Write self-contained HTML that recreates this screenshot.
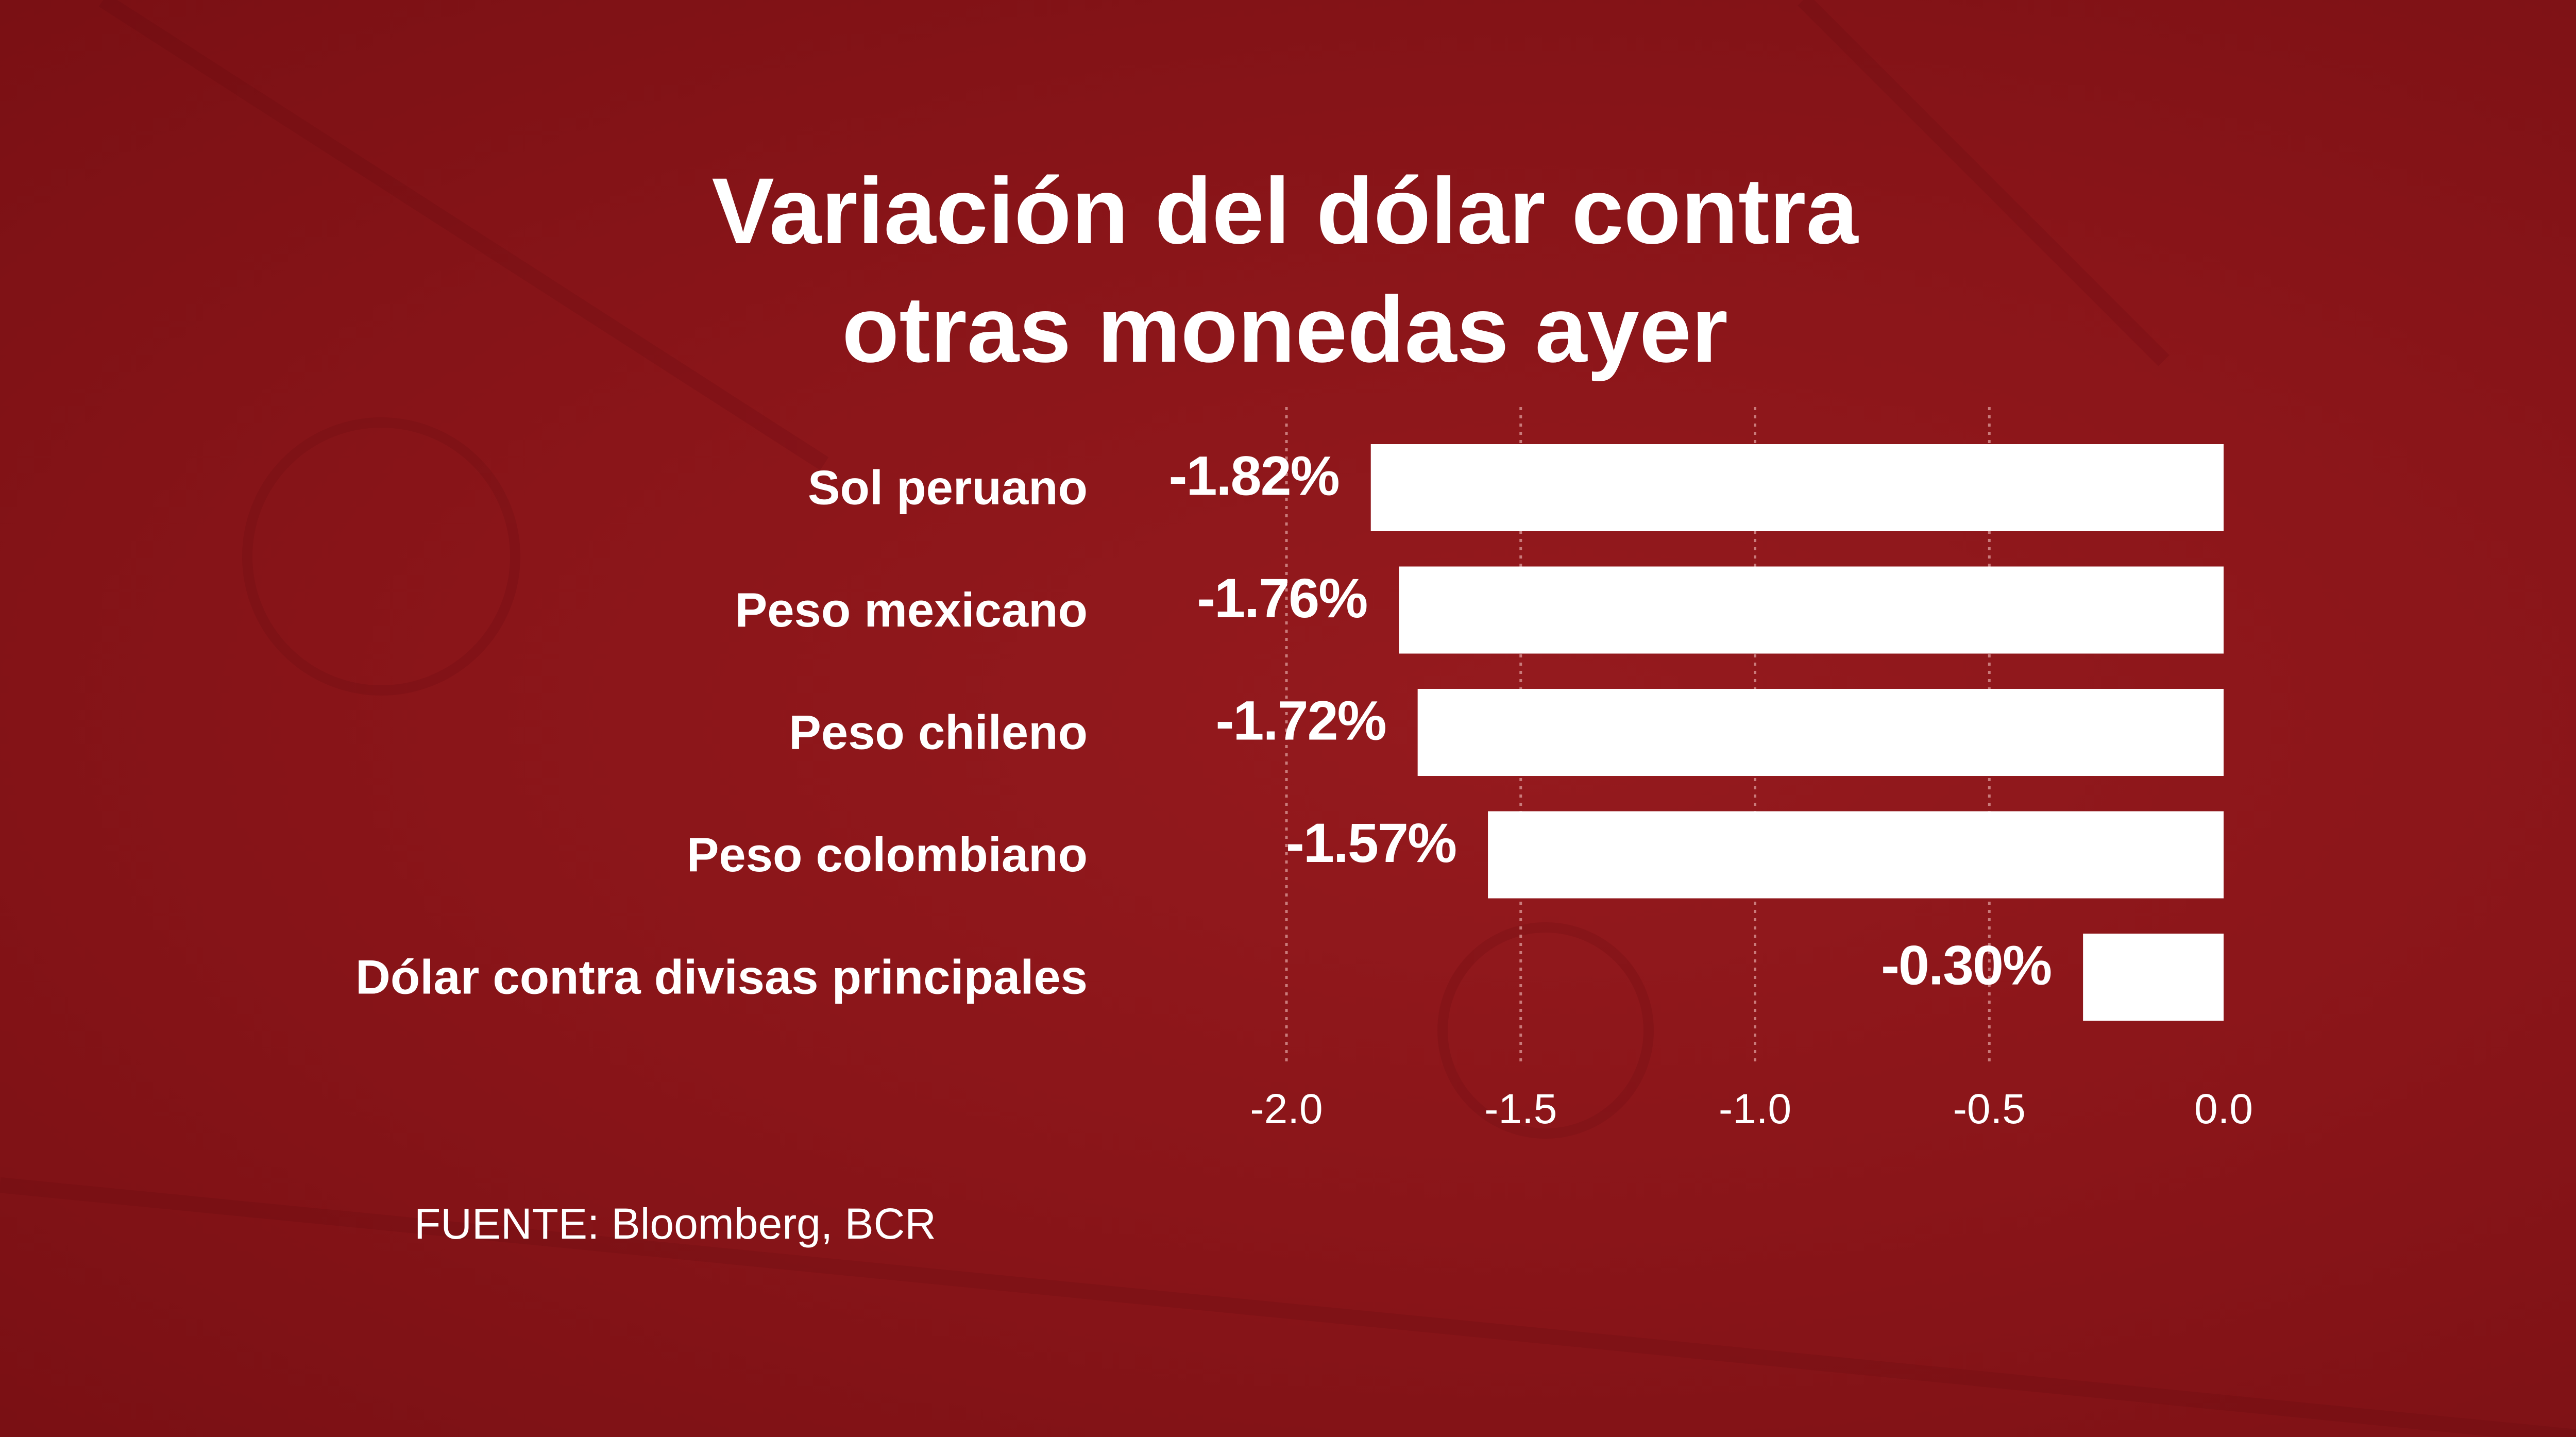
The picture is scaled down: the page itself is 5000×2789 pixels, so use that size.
<!DOCTYPE html>
<html><head><meta charset="utf-8"><style>
html,body{margin:0;padding:0}
body{width:5000px;height:2789px;overflow:hidden;position:relative;font-family:"Liberation Sans",sans-serif;
background:radial-gradient(ellipse at 60% 50%,#951a1e 0%,#8a1519 50%,#7a1014 100%);}
svg{position:absolute;left:0;top:0}
</style></head><body>
<svg width="5000" height="2789">
<g opacity="0.15" fill="none" stroke="#5a0a0d" stroke-width="30">
<path d="M0 2300 L5000 2789"/><path d="M200 0 L1600 900"/><path d="M3500 0 L4200 700"/>
<circle cx="740" cy="1080" r="260" stroke-width="20"/><circle cx="3000" cy="2000" r="200" stroke-width="20"/>
</g>
<text x="2494" y="472" text-anchor="middle" fill="#fff" font-weight="bold" font-size="182">Variación del dólar contra</text>
<text x="2494" y="702" text-anchor="middle" fill="#fff" font-weight="bold" font-size="182">otras monedas ayer</text>
<g id="grid"></g><g id="bars"></g><g id="ticks"></g>
<text x="804" y="2404" fill="#fff" font-size="84">FUENTE: Bloomberg, BCR</text>
</svg>
<script>
const categories=["Sol peruano","Peso mexicano","Peso chileno","Peso colombiano","Dólar contra divisas principales"];
const values=[-1.82,-1.76,-1.72,-1.57,-0.30];
const valueLabels=["-1.82%","-1.76%","-1.72%","-1.57%","-0.30%"];
const ticks=[-2.0,-1.5,-1.0,-0.5,0.0];
const tickLabels=["-2.0","-1.5","-1.0","-0.5","0.0"];
const NS="http://www.w3.org/2000/svg";
function x(v){return 4316+v*(4316-2497)/2;}
function yTop(i){return 862+i*237.5;}
const bh=169;
function mk(tag,attrs,parent,txt){const e=document.createElementNS(NS,tag);for(const k in attrs)e.setAttribute(k,attrs[k]);if(txt!==undefined)e.textContent=txt;document.getElementById(parent).appendChild(e);return e;}
ticks.forEach((t,i)=>{
 if(t!==0){const l=mk("line",{x1:x(t),x2:x(t),y1:790,y2:2070,stroke:"#c97b7b","stroke-width":5,"stroke-dasharray":"6 10"},"grid");
 
 }
 const tx=mk("text",{x:x(t),y:2180,"text-anchor":"middle",fill:"#fff","font-size":82},"ticks",tickLabels[i]);
 
 
});
categories.forEach((c,i)=>{
 const y=yTop(i);
 const r=mk("rect",{x:x(values[i]),y:y,width:x(0)-x(values[i]),height:bh,fill:"#fff"},"bars");
 
 
 const lab=mk("text",{x:2111,y:y+bh/2+32,"text-anchor":"end",fill:"#fff","font-size":94,"font-weight":"bold"},"bars",c);
 
 
 const v=mk("text",{x:x(values[i])-62,y:y+bh/2+14,"text-anchor":"end",fill:"#fff","font-size":108,"font-weight":"bold","letter-spacing":"-2"},"bars",valueLabels[i]);
 
 
});
</script>
</body></html>
